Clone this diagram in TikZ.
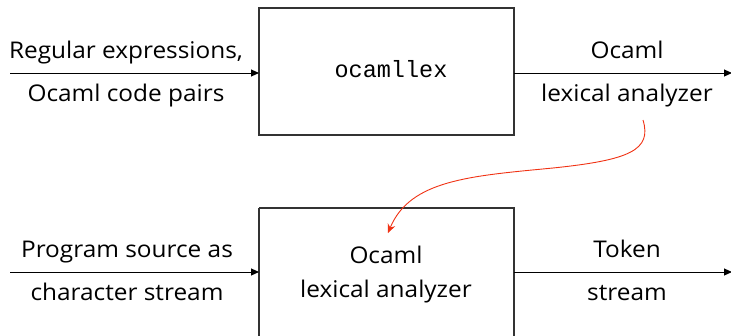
\documentclass[tikz,border=0pt]{standalone}
\usepackage{fontspec}
\setmainfont[FakeStretch=1.06]{Open Sans}
\setmonofont{Liberation Mono}
\usetikzlibrary{arrows.meta}
\begin{document}
\begin{tikzpicture}[x=1pt,y=-1pt,
  box/.style={draw=black!80, line width=1.3pt},
  lbl/.style={font=\fontsize{23}{26}\selectfont, inner sep=0pt, anchor=base},
  flow/.style={line width=1pt, -{Triangle[length=8pt,width=7pt]}},
  lnk/.style={draw={rgb,255:red,240;green,50;blue,20}, line width=0.9pt, -{Stealth[length=9pt,width=8pt,inset=3pt]}}]
\useasboundingbox (0,0) rectangle (731,335);
\draw[box] (259,8) rectangle (514,135);
\draw[box] (259,208) -- (259,340) (259,208) -- (514,208) -- (514,340);
\node[font=\ttfamily\fontsize{23.5}{26}\selectfont, inner sep=0pt, anchor=base] (lex) at (391,77) {ocamllex};
\coordinate (tl) at (10,73); \coordinate (tin) at (259,73);
\coordinate (tout) at (514,73); \coordinate (tr) at (732,73);
\coordinate (bl) at (10,272); \coordinate (bin) at (259,272);
\coordinate (bout) at (514,272); \coordinate (br) at (732,272);
\draw[flow] (tl) -- (tin);
\draw[flow] (tout) -- (tr);
\draw[flow] (bl) -- (bin);
\draw[flow] (bout) -- (br);
\node[lbl] (l1) at (126,58) {Regular expressions,};
\node[lbl] (l2) at (126,101) {Ocaml code pairs};
\node[lbl] (r1) at (627,58) {Ocaml};
\node[lbl] (r2) at (627,101) {lexical analyzer};
\node[lbl] (l3) at (127,257) {Program source as};
\node[lbl] (l4) at (127,300) {character stream};
\node[lbl] (r3) at (627,257) {Token};
\node[lbl] (r4) at (627,300) {stream};
\node[lbl] (m1) at (386,263) {Ocaml};
\node[lbl] (m2) at (386,297) {lexical analyzer};
\coordinate (cs) at (643,120);
\coordinate (ce) at (388,233);
\draw[lnk] (cs) .. controls (652,150) and (630,160) .. (553,168)
  .. controls (470,176) and (410,180) .. (ce);
\end{tikzpicture}
\end{document}
